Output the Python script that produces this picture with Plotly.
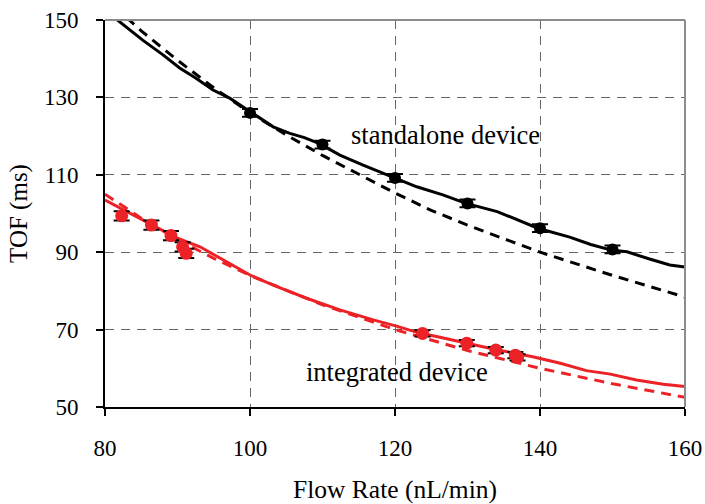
import plotly.graph_objects as go

# ---- data ----
std_pts_x = [100, 110, 120, 130, 140, 150]
std_pts_y = [126.0, 117.8, 109.2, 102.6, 96.2, 90.7]
std_pts_err = [1.0, 1.0, 1.0, 1.0, 1.0, 1.0]

std_line_x = [81.5, 83.5, 85.2, 88.0, 90.3, 92.5, 94.9, 97.2, 100.0, 103.2, 105.5, 107.5,
              109.5, 112.4, 115.6, 119.7, 123.0, 126.6, 129.8, 134.1, 136.5, 139.7,
              144.1, 147.0, 149.7, 152.0, 155.0, 157.9, 160.0]
std_line_y = [150.3, 147.3, 144.8, 141.0, 137.6, 135.0, 131.9, 129.8, 126.3, 122.4, 120.7, 119.6,
              118.1, 115.1, 112.5, 109.5, 106.9, 104.8, 102.6, 100.5, 98.6, 96.2,
              93.9, 92.0, 90.6, 90.1, 88.3, 86.7, 86.2]

std_fit_x = [83, 85, 90, 95, 100, 105, 110, 115, 120, 125, 130, 140, 150, 160]
std_fit_y = [150.6, 147.2, 139.6, 132.5, 126.0, 120.3, 115.0, 110.2, 105.3, 100.8, 97.0, 90.0, 84.0, 78.4]

int_pts_x = [82.3, 86.4, 89.1, 90.7, 91.2, 123.8, 129.9, 133.9, 136.6, 136.9]
int_pts_y = [99.4, 97.0, 94.3, 91.4, 89.7, 69.0, 66.5, 64.7, 63.4, 62.8]
int_pts_err = [1.2, 1.2, 1.2, 1.2, 1.2, 0.8, 0.8, 0.8, 0.8, 0.8]

int_line_x = [80.0, 83.0, 86.4, 90.0, 93.1, 96.5, 100.0, 103.2, 107.8, 112.4, 117.0, 120.2,
              123.4, 126.2, 130.0, 134.0, 139.0, 142.8, 146.4, 149.7, 153.3, 157.0, 160.0]
int_line_y = [103.5, 100.5, 97.0, 93.6, 91.4, 87.8, 84.1, 81.5, 78.1, 75.1, 72.5, 70.9,
              69.1, 68.0, 66.4, 64.8, 63.0, 61.3, 59.4, 58.5, 57.0, 55.9, 55.3]

int_fit_x = [80, 85, 90, 95, 100, 110, 120, 130, 140, 150, 160]
int_fit_y = [105.0, 98.8, 93.3, 88.4, 84.0, 76.4, 70.0, 64.6, 60.0, 56.0, 52.5]

x_ticks = [80, 100, 120, 140, 160]
y_ticks = [50, 70, 90, 110, 130, 150]

RED = "#ec2227"
FONT = "Liberation Serif"

fig = go.Figure()

fig.add_trace(go.Scatter(x=std_fit_x, y=std_fit_y, mode="lines",
                         line=dict(color="black", width=3, dash="10px,7px")))
fig.add_trace(go.Scatter(x=std_line_x, y=std_line_y, mode="lines",
                         line=dict(color="black", width=3)))
fig.add_trace(go.Scatter(x=std_pts_x, y=std_pts_y, mode="markers",
                         marker=dict(color="black", size=12),
                         error_y=dict(type="data", array=std_pts_err, color="black",
                                      thickness=2, width=8)))

fig.add_trace(go.Scatter(x=int_fit_x, y=int_fit_y, mode="lines",
                         line=dict(color=RED, width=3, dash="10px,7px")))
fig.add_trace(go.Scatter(x=int_line_x, y=int_line_y, mode="lines",
                         line=dict(color=RED, width=3)))
fig.add_trace(go.Scatter(x=int_pts_x, y=int_pts_y, mode="markers",
                         marker=dict(color=RED, size=13),
                         error_y=dict(type="data", array=int_pts_err, color="black",
                                      thickness=2, width=8)))

fig.add_annotation(x=126.9, y=120.3, text="standalone device", showarrow=False,
                   font=dict(family=FONT, size=26.5, color="black"))
fig.add_annotation(x=120.3, y=59.0, text="integrated device", showarrow=False,
                   font=dict(family=FONT, size=26.5, color="black"))

# gray top/right frame
fig.add_shape(type="line", xref="paper", yref="paper", x0=0, x1=1, y0=1, y1=1,
              line=dict(color="#8c8c8c", width=2))
fig.add_shape(type="line", xref="paper", yref="paper", x0=1, x1=1, y0=0, y1=1,
              line=dict(color="#8c8c8c", width=2))

fig.update_layout(
    width=705, height=504,
    margin=dict(l=105, r=20, t=20, b=97),
    paper_bgcolor="white", plot_bgcolor="white",
    showlegend=False,
    font=dict(family=FONT, size=23, color="black"),
    xaxis=dict(range=[80, 160], tickvals=x_ticks, ticktext=[str(v) for v in x_ticks],
               showgrid=True, gridcolor="#666666", griddash="9px,7px", gridwidth=1.2,
               showline=True, linecolor="black", linewidth=2,
               ticks="outside", ticklen=7, tickwidth=1.5, tickcolor="black",
               ticklabelstandoff=12, zeroline=False, automargin=False,
               title=dict(text="Flow Rate (nL/min)", font=dict(family=FONT, size=25.5), standoff=34)),
    yaxis=dict(range=[50, 150], tickvals=y_ticks, ticktext=[str(v) for v in y_ticks],
               showgrid=True, gridcolor="#666666", griddash="9px,7px", gridwidth=1.2,
               showline=True, linecolor="black", linewidth=2,
               ticks="outside", ticklen=7, tickwidth=1.5, tickcolor="black",
               ticklabelstandoff=13, zeroline=False, automargin=False,
               title=dict(text="TOF (ms)", font=dict(family=FONT, size=25), standoff=9)),
)

fig.write_html("out.html")
